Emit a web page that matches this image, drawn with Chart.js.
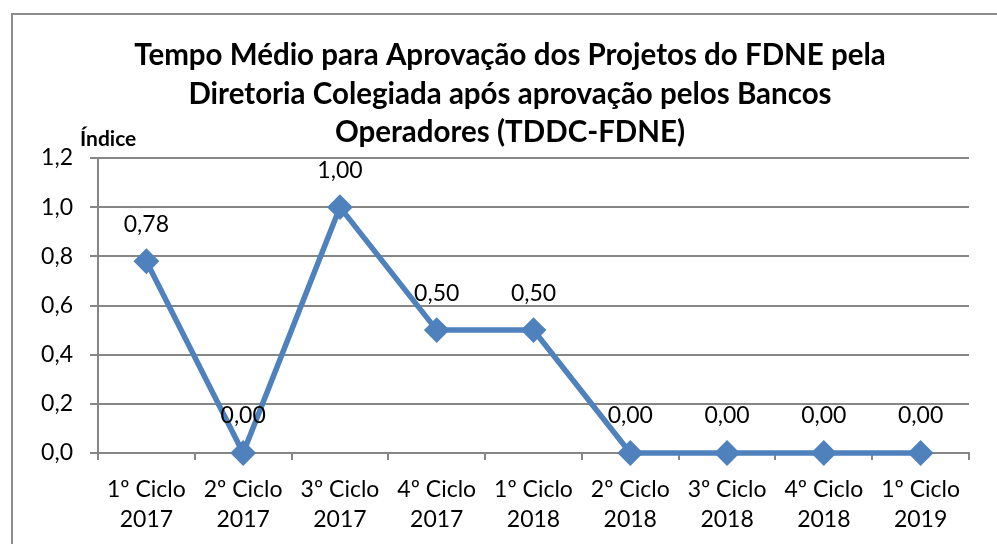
<!DOCTYPE html>
<html>
<head>
<meta charset="utf-8">
<script src="https://cdn.jsdelivr.net/npm/chart.js@4.4.0/dist/chart.umd.min.js"></script>
<style>
  html, body { margin: 0; padding: 0; background: #fff; }
  #wrap { width: 997px; height: 544px; position: relative; }
</style>
</head>
<body>
<div id="wrap"><canvas id="chart" width="997" height="544"></canvas></div>
<script>
// Chart data
const categories = [
  ['1º Ciclo', '2017'], ['2º Ciclo', '2017'], ['3º Ciclo', '2017'], ['4º Ciclo', '2017'],
  ['1º Ciclo', '2018'], ['2º Ciclo', '2018'], ['3º Ciclo', '2018'], ['4º Ciclo', '2018'],
  ['1º Ciclo', '2019']
];
const tddcValues = [0.78, 0.00, 1.00, 0.50, 0.50, 0.00, 0.00, 0.00, 0.00];
const titleLines = [
  'Tempo Médio para Aprovação dos Projetos do FDNE pela',
  'Diretoria Colegiada após aprovação pelos Bancos',
  'Operadores (TDDC-FDNE)'
];
const yAxisTitle = 'Índice';

const FONT = 'Lato, "Open Sans", "Noto Sans", sans-serif';
const GRID = '#868686';
const LINE = '#4F81BD';

const fmt = (v, d) => v.toFixed(d).replace('.', ',');

// frame, title and axis name
const decorPlugin = {
  id: 'decor',
  beforeDraw(chart) {
    const ctx = chart.ctx;
    ctx.save();
    ctx.fillStyle = '#fff';
    ctx.fillRect(0, 0, chart.width, chart.height);
    ctx.strokeStyle = '#8c8c8c';
    ctx.lineWidth = 2;
    ctx.strokeRect(12, 14, 1100, 700);
    ctx.restore();
  },
  afterDraw(chart) {
    const ctx = chart.ctx;
    ctx.save();
    ctx.fillStyle = '#000';
    ctx.textAlign = 'center';
    ctx.textBaseline = 'middle';
    ctx.font = 'bold 29.5px ' + FONT;
    const ys = [55, 94, 132];
    titleLines.forEach((t, i) => ctx.fillText(t, 510, ys[i]));
    ctx.font = 'bold 21px ' + FONT;
    ctx.textAlign = 'left';
    ctx.fillText(yAxisTitle, 80, 139);
    ctx.restore();
  }
};

// value labels above points
const labelPlugin = {
  id: 'valueLabels',
  afterDatasetsDraw(chart) {
    const ctx = chart.ctx;
    const meta = chart.getDatasetMeta(0);
    ctx.save();
    ctx.fillStyle = '#000';
    ctx.font = '23px ' + FONT;
    ctx.textAlign = 'center';
    ctx.textBaseline = 'middle';
    meta.data.forEach((pt, i) => {
      ctx.fillText(fmt(tddcValues[i], 2), pt.x, pt.y - 37);
    });
    ctx.restore();
  }
};

new Chart(document.getElementById('chart'), {
  type: 'line',
  data: {
    labels: categories,
    datasets: [{
      data: tddcValues,
      borderColor: LINE,
      backgroundColor: LINE,
      borderWidth: 5.5,
      pointStyle: 'rectRot',
      pointRadius: 9,
      pointHoverRadius: 9,
      pointBackgroundColor: LINE,
      pointBorderColor: LINE,
      tension: 0,
      clip: false
    }]
  },
  options: {
    responsive: false,
    animation: false,
    events: [],
    layout: { padding: { left: 0, top: 158, right: 28, bottom: 0 } },
    plugins: {
      legend: { display: false },
      title: { display: false },
      tooltip: { enabled: false }
    },
    scales: {
      x: {
        offset: true,
        grid: {
          offset: true,
          drawOnChartArea: false,
          drawTicks: true,
          tickLength: 7,
          color: GRID,
          lineWidth: 2
        },
        border: { color: GRID, width: 2 },
        ticks: {
          color: '#000',
          font: { size: 23, family: FONT, lineHeight: 1.3 },
          padding: 15,
          maxRotation: 0,
          autoSkip: false
        },
        afterFit(scale) { scale.height = 91; }
      },
      y: {
        min: 0,
        max: 1.2,
        grid: {
          color: GRID,
          lineWidth: 2,
          tickLength: 8,
          drawTicks: true
        },
        border: { color: GRID, width: 2 },
        ticks: {
          stepSize: 0.2,
          color: '#000',
          font: { size: 23, family: FONT },
          padding: 17,
          callback: v => fmt(v, 1)
        },
        afterFit(scale) { scale.width = 98; }
      }
    }
  },
  plugins: [decorPlugin, labelPlugin]
});
</script>
</body>
</html>
